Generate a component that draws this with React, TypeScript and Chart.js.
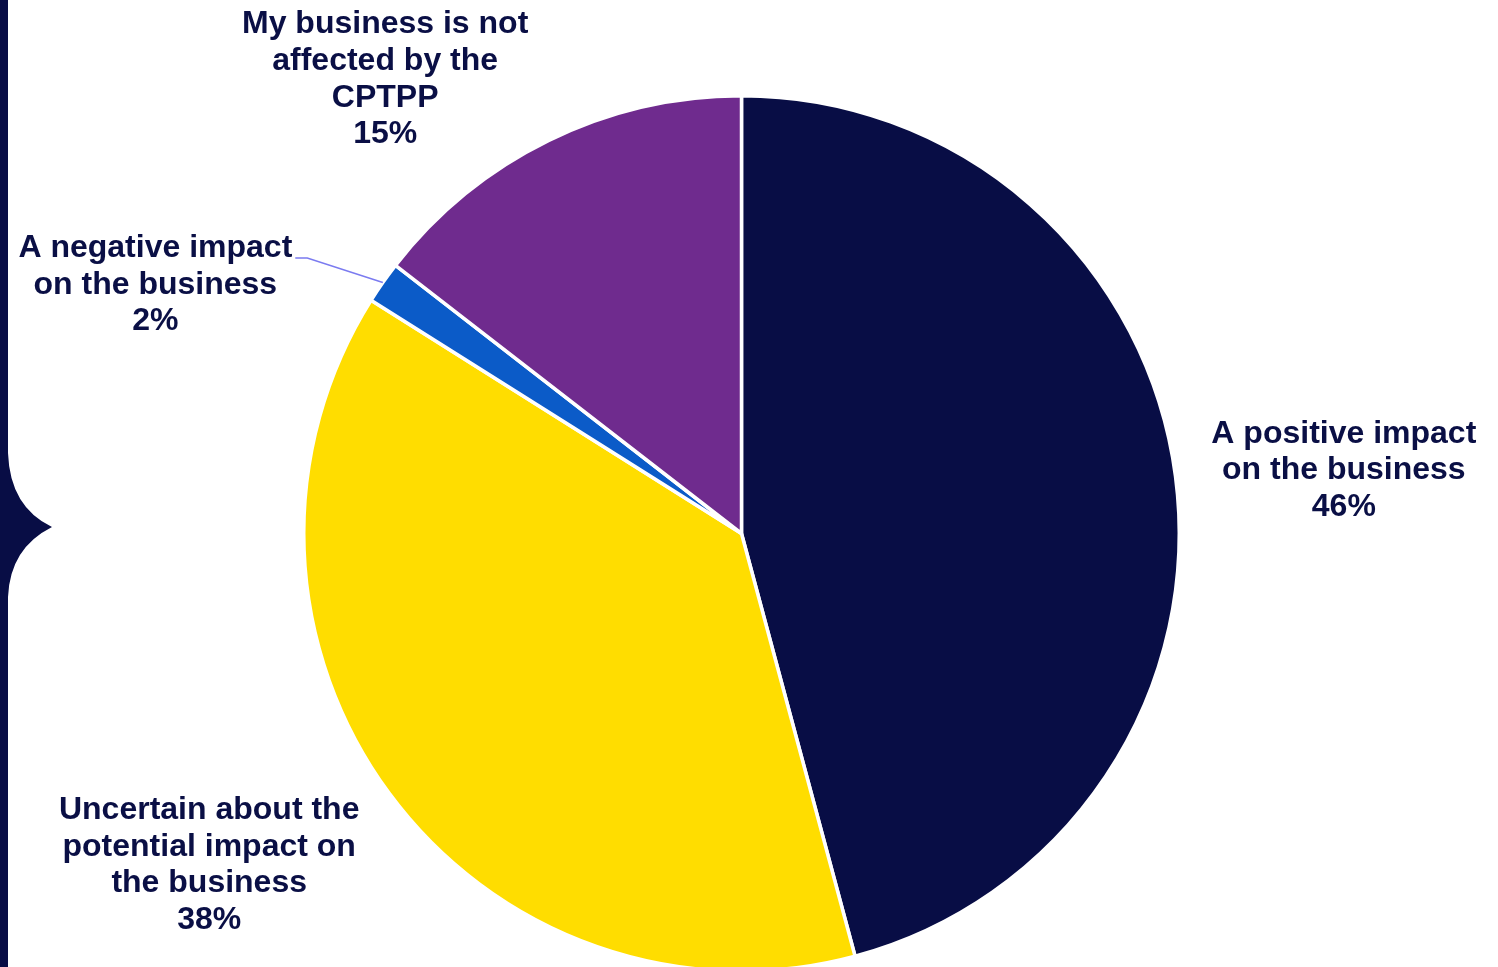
import React, { useEffect, useRef } from "react";
import { Chart, registerables } from "chart.js";

Chart.register(...registerables);

const categories = [
  ["A positive impact", "on the business"],
  ["Uncertain about the", "potential impact on", "the business"],
  ["A negative impact", "on the business"],
  ["My business is not", "affected by the", "CPTPP"],
];
const values = [45.8, 38.1, 1.55, 14.5];
const percentLabels = ["46%", "38%", "2%", "15%"];
const sliceColors = ["#080d45", "#ffdd00", "#0b5bc8", "#6f2b8e"];

// label placement relative to pie centre, in units of the radius
const labelLayout = [
  { dx: 1.376, dy: -0.228, leader: false },
  { dx: -1.216, dy: 0.632, leader: false },
  { dx: -1.339, dy: -0.652, leader: true },
  { dx: -0.814, dy: -1.163, leader: false },
];

const TEXT_COLOR = "#0a0f45";
const FONT = "bold 32px 'Liberation Sans', Arial, sans-serif";
const LINE_H = 36.7;

const labelPlugin = {
  id: "pieLabels",
  beforeDraw(chart: any) {
    const ctx = chart.ctx;
    const h = chart.height;
    ctx.save();
    ctx.fillStyle = "#080d45";
    ctx.beginPath();
    ctx.moveTo(0, 0);
    ctx.lineTo(8, 0);
    ctx.lineTo(8, 453);
    ctx.quadraticCurveTo(10, 507, 52, 527);
    ctx.quadraticCurveTo(10, 548, 8, 597);
    ctx.lineTo(8, h);
    ctx.lineTo(0, h);
    ctx.closePath();
    ctx.fill();
    ctx.restore();
  },
  afterDraw(chart: any) {
    const ctx = chart.ctx;
    const meta = chart.getDatasetMeta(0);
    ctx.save();
    ctx.font = FONT;
    ctx.textAlign = "center";
    ctx.textBaseline = "middle";
    meta.data.forEach((arc: any, i: number) => {
      const { x, y, outerRadius, startAngle, endAngle } = arc.getProps(
        ["x", "y", "outerRadius", "startAngle", "endAngle"],
        true
      );
      const lay = labelLayout[i];
      const cx = x + lay.dx * outerRadius;
      const cy = y + lay.dy * outerRadius;
      const lines = [...categories[i], percentLabels[i]];
      ctx.fillStyle = TEXT_COLOR;
      lines.forEach((ln, k) => ctx.fillText(ln, cx, cy + k * LINE_H));
      if (lay.leader) {
        const w = ctx.measureText(lines[0]).width;
        const sx = cx + w / 2 + 3;
        const sy = cy + 10;
        const mid = (startAngle + endAngle) / 2;
        const ex = x + Math.cos(mid) * outerRadius;
        const ey = y + Math.sin(mid) * outerRadius;
        ctx.strokeStyle = "#7b7bf0";
        ctx.lineWidth = 1.5;
        ctx.beginPath();
        ctx.moveTo(sx, sy);
        ctx.lineTo(sx + 12, sy);
        ctx.lineTo(ex, ey);
        ctx.stroke();
      }
    });
    ctx.restore();
  },
};

export default function App() {
  const ref = useRef<HTMLCanvasElement | null>(null);
  useEffect(() => {
    document.body.style.margin = "0";
    const chart = new Chart(ref.current!, {
      type: "pie",
      data: {
        labels: categories.map((c) => c.join(" ")),
        datasets: [
          {
            data: values,
            backgroundColor: sliceColors,
            borderColor: "#ffffff",
            borderWidth: 3.5,
          },
        ],
      },
      options: {
        responsive: false,
        animation: false,
        devicePixelRatio: 1,
        layout: { padding: { left: 302, right: 317, top: 94, bottom: 37 } },
        plugins: {
          legend: { display: false },
          tooltip: { enabled: false },
        },
      },
      plugins: [labelPlugin],
    });
    return () => chart.destroy();
  }, []);
  return (
    <div
      style={{
        position: "absolute",
        left: 0,
        top: 0,
        width: 1498,
        height: 967,
        overflow: "hidden",
        background: "#ffffff",
      }}
    >
      <canvas ref={ref} width={1498} height={1010} />
    </div>
  );
}
